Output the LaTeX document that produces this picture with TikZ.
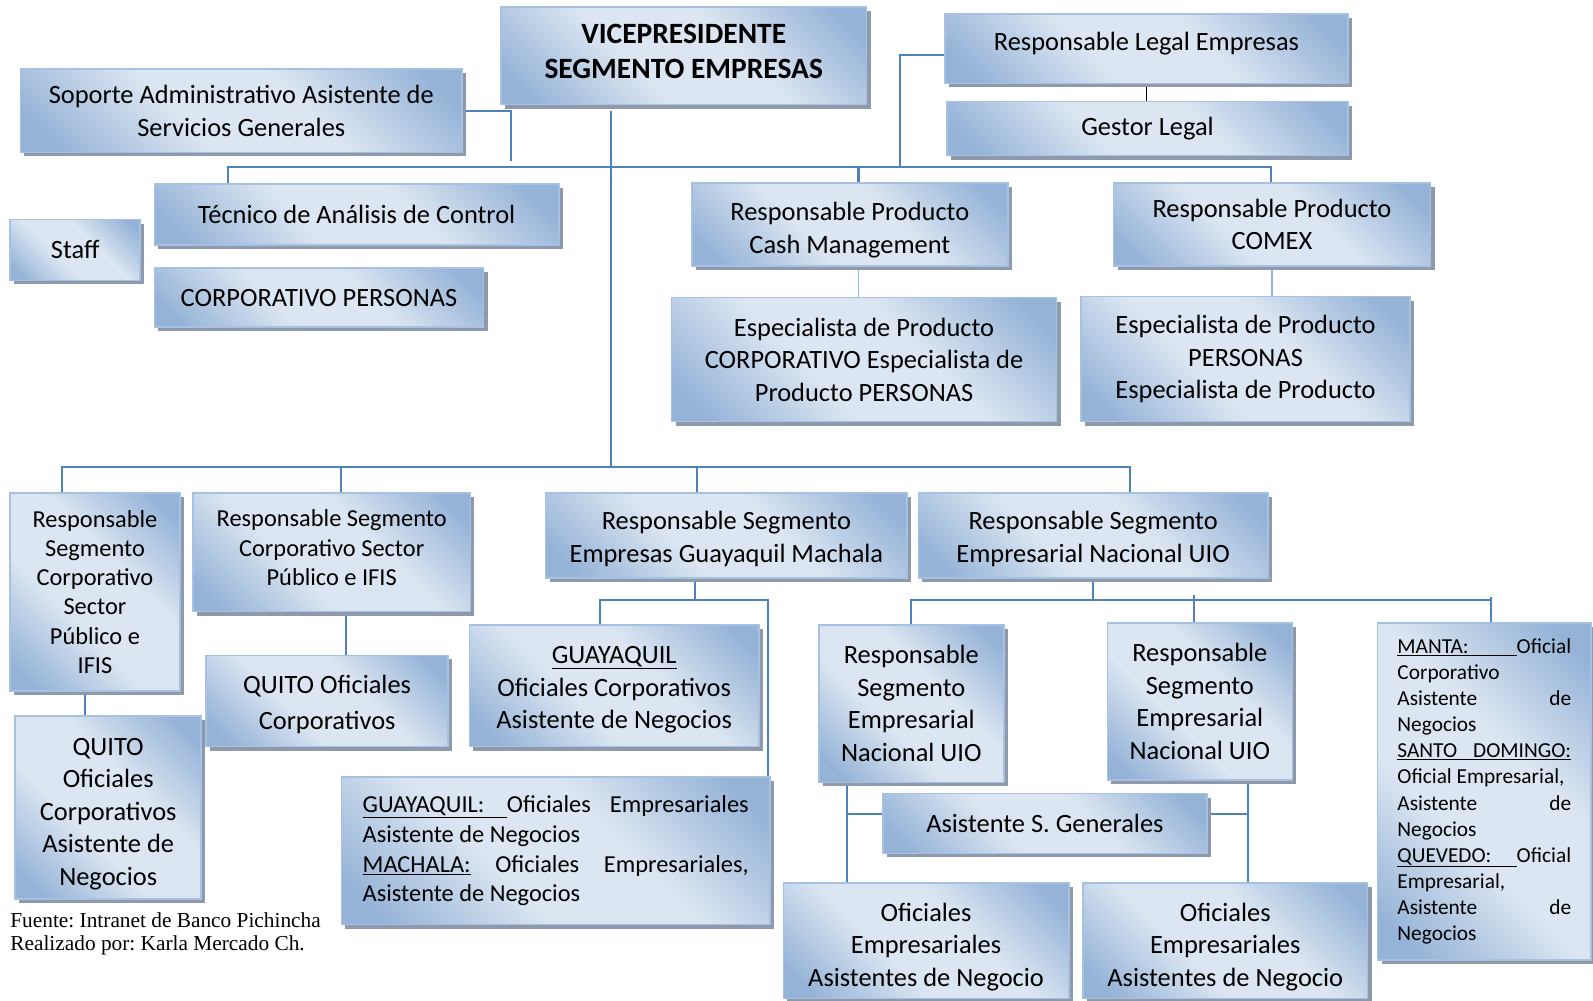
\documentclass[tikz,border=0pt]{standalone}
\usepackage{fontspec}
\setmainfont{Carlito}
\newfontfamily\notefont{Liberation Serif}
\usetikzlibrary{shadows,backgrounds}
\definecolor{boxdark}{HTML}{95B3D7}
\definecolor{boxlight}{HTML}{DCE6F2}
\definecolor{boxedge}{HTML}{A7C1E2}
\definecolor{shadowgray}{HTML}{8E9AAB}
\definecolor{linkblue}{HTML}{4F81BD}
\definecolor{linklight}{HTML}{95B3D7}
% diagonal fill: dark corners, pale band across the middle
\pgfdeclarehorizontalshading{orgshade}{100bp}{color(0bp)=(boxdark); color(20bp)=(boxdark); color(41bp)=(boxlight); color(59bp)=(boxlight); color(80bp)=(boxdark); color(100bp)=(boxdark)}
% underlined label padded up to a trailing word, the whole line #1 wide
\newcommand\ulpair[3]{\hbox to #1{\setbox0\hbox{#3}\underline{\hbox to\dimexpr#1-\wd0\relax{#2\hfill}}\box0}}
\newcommand\jline[2]{\hbox to #1{#2}}
% invisible struts that push a text block down (\lowertxt) or up (\raisetxt)
\newcommand\lowertxt[1]{\rule{0pt}{#1}}
\newcommand\raisetxt[1]{\rule[-#1]{0pt}{0pt}}
\frenchspacing
\begin{document}
\begin{tikzpicture}[x=1pt,y=-1pt,
  orgbox/.style 2 args={draw=boxedge, line width=1.5pt,
    shade, shading=orgshade, shading angle=45,
    minimum width=#1pt, minimum height=#2pt, inner sep=0pt, outer sep=0pt, align=center,
    drop shadow={shadow xshift=4pt, shadow yshift=-4pt, fill=shadowgray, opacity=1},
    font=\fontsize{26}{32}\selectfont},
  small/.style={font=\fontsize{24}{28.8}\selectfont},
  conn/.style={draw=linkblue, line width=2pt},
  connlt/.style={draw=linklight, line width=1.6pt},
  note/.style={anchor=west, inner sep=0pt, font=\notefont\fontsize{21}{25}\selectfont}]
\useasboundingbox (0,0) rectangle (1568,985);

% ---- top level ----
\node[orgbox={360}{96}, font=\bfseries\fontsize{29}{35}\selectfont] (vp) at (673,55) {VICEPRESIDENTE\\SEGMENTO EMPRESAS\raisetxt{9pt}};
\node[orgbox={435}{82}] (sop) at (237.5,109) {Soporte Administrativo Asistente de\\Servicios Generales};
\node[orgbox={397}{68}] (leg) at (1128.5,48) {Responsable Legal Empresas\raisetxt{14pt}};
\node[orgbox={395}{53}] (ges) at (1129.5,126.5) {Gestor Legal};
\node[orgbox={398}{60}] (tec) at (351,211) {Técnico de Análisis de Control};
\node[orgbox={128}{60}] (staff) at (74,246) {Staff};
\node[orgbox={324}{58}] (corp) at (314,293) {CORPORATIVO PERSONAS};
\node[orgbox={311}{82}] (cash) at (836.5,221) {\lowertxt{29pt}Responsable Producto\\Cash Management};
\node[orgbox={312}{82}] (comex) at (1252,221) {Responsable Producto\\COMEX};
\node[orgbox={379}{122}] (espc) at (850.5,354) {Especialista de Producto\\CORPORATIVO Especialista de\\Producto PERSONAS};
\node[orgbox={324}{123}] (espp) at (1226,353.5) {Especialista de Producto\\PERSONAS\\Especialista de Producto};

% ---- segment heads ----
\node[orgbox={167}{195}, small] (rscn) at (93.5,582.5) {Responsable\\Segmento\\Corporativo\\Sector\\Público e\\IFIS};
\node[orgbox={273}{117}, small] (rscw) at (326.5,543.5) {Responsable Segmento\\Corporativo Sector\\Público e IFIS\raisetxt{9pt}};
\node[orgbox={356}{84}] (rsgm) at (715,527) {\lowertxt{25pt}Responsable Segmento\\Empresas Guayaquil Machala};
\node[orgbox={344}{84}] (rsen) at (1076,527) {\lowertxt{25pt}Responsable Segmento\\Empresarial Nacional UIO};

% ---- branch offices ----
\node[orgbox={238}{90}, font=\fontsize{26}{36}\selectfont] (qoc) at (322,690) {\lowertxt{25pt}QUITO Oficiales\\Corporativos};
\node[orgbox={285}{120}] (guay) at (604.5,675) {\lowertxt{25pt}\underline{GUAYAQUIL}\\Oficiales Corporativos\\Asistente de Negocios};
\node[orgbox={182}{155}] (rseL) at (897,692.5) {Responsable\\Segmento\\Empresarial\\Nacional UIO};
\node[orgbox={182}{155}] (rseR) at (1181,690.5) {Responsable\\Segmento\\Empresarial\\Nacional UIO};
\node[orgbox={210}{332}, align=left, font=\fontsize{21}{25.7}\selectfont] (manta) at (1461,779) {%
  \ulpair{171pt}{MANTA:}{Oficial}\\
  Corporativo\\
  \jline{171pt}{Asistente\hfill de}\\
  Negocios\\
  \underline{\jline{171pt}{SANTO\hfill DOMINGO:}}\\
  Oficial Empresarial,\\
  \jline{171pt}{Asistente\hfill de}\\
  Negocios\\
  \ulpair{171pt}{QUEVEDO:}{Oficial}\\
  Empresarial,\\
  \jline{171pt}{Asistente\hfill de}\\
  Negocios};
\node[orgbox={183}{180}] (qocan) at (106.5,795) {\lowertxt{29pt}QUITO\\Oficiales\\Corporativos\\Asistente de\\Negocios};
\node[orgbox={422}{145}, align=left, font=\fontsize{24}{29.3}\selectfont] (guaym) at (547,837.5) {%
  \jline{380pt}{\underline{\hbox to 142pt{GUAYAQUIL:\hfill}}Oficiales\hfill Empresariales}\\
  \jline{380pt}{Asistente de Negocios\hfill}\\
  \jline{380pt}{\underline{MACHALA:}\hfill Oficiales\hfill Empresariales,}\\
  \jline{380pt}{Asistente de Negocios\hfill}};
\node[orgbox={319}{59}] (asg) at (1028.5,810.5) {Asistente S. Generales};
\node[orgbox={281}{114}] (ofeL) at (911.5,926) {\lowertxt{30pt}Oficiales\\Empresariales\\Asistentes de Negocio};
\node[orgbox={280}{114}] (ofeR) at (1206,926) {\lowertxt{30pt}Oficiales\\Empresariales\\Asistentes de Negocio};

% ---- source note ----
\node[note] (note1) at (10,906) {Fuente: Intranet de Banco Pichincha};
\node[note] (note2) at (10,931) {Realizado por: Karla Mercado Ch.};

% ---- connectors ----
\begin{scope}[on background layer]
  \coordinate (t0) at (601,109);
  \coordinate (b1a) at (224,164);
  \coordinate (b1b) at (1251,164);
  \coordinate (b1c) at (845,164);
  \coordinate (b1d) at (886,164);
  \coordinate (sopE) at (503,158);
  \coordinate (b2a) at (61,460);
  \coordinate (b2b) at (1112,460);
  \coordinate (b2c) at (336,460);
  \coordinate (b2d) at (686,460);
  \coordinate (b2t) at (601,460);
  \coordinate (b3a) at (591,591);
  \coordinate (b3b) at (756,591);
  \coordinate (b4a) at (897,591);
  \coordinate (b4b) at (1468,591);
  \coordinate (b4c) at (1175,586);
  \coordinate (b4d) at (1468,588);

  \draw[conn] (t0) -- (b2t);
  \draw[conn] (tec.north -| b1a) -- (b1a) -- (b1b) -- (comex.north -| b1b);
  \draw[conn] (b1c) -- (cash.north -| b1c);
  \draw[conn] (b1d) |- ([yshift=-6pt]leg.west);
  \draw[conn] (sop.east) -| (sopE);
  \draw[black, line width=1.6pt] (leg.south) -- (leg.south |- ges.north);
  \draw[connlt] (cash.south -| b1c) -- (espc.north -| b1c);
  \draw[connlt] (comex.south) -- (comex.south |- espp.north);

  \draw[conn] (rscn.north -| b2a) -- (b2a) -- (b2b) -- (rsen.north -| b2b);
  \draw[conn] (b2c) -- (rscw.north -| b2c);
  \draw[conn] (b2d) -- (rsgm.north -| b2d);
  \coordinate (dn1) at ([xshift=-9.5pt]rscn.south);
  \draw[conn] (dn1) -- (dn1 |- qocan.north);
  \coordinate (dn2) at ([xshift=14.5pt]rscw.south);
  \draw[conn] (dn2) -- (dn2 |- qoc.north);

  \coordinate (dn3) at ([xshift=-31pt]rsgm.south);
  \draw[conn] (dn3) -- (dn3 |- b3a);
  \draw[conn] (guay.north -| b3a) -- (b3a) -- (b3b) -- (guaym.north -| b3b);

  \draw[conn] (rsen.south) -- (rsen.south |- b4a);
  \draw[conn] (rseL.north -| b4a) -- (b4a) -- (b4b);
  \draw[conn] (b4c) -- (rseR.north -| b4c);
  \draw[conn] (b4d) -- (manta.north -| b4d);

  \coordinate (vL) at ([xshift=-63pt]rseL.south);
  \coordinate (vR) at ([xshift=47pt]rseR.south);
  \coordinate (aL) at ([yshift=9.5pt]asg.west);
  \coordinate (aR) at ([yshift=9.5pt]asg.east);
  \draw[conn] (vL) -- (vL |- ofeL.north);
  \draw[conn] (aL) -- (aL -| vL);
  \draw[conn] (vR) -- (vR |- ofeR.north);
  \draw[conn] (aR) -- (aR -| vR);
\end{scope}
\end{tikzpicture}
\end{document}
